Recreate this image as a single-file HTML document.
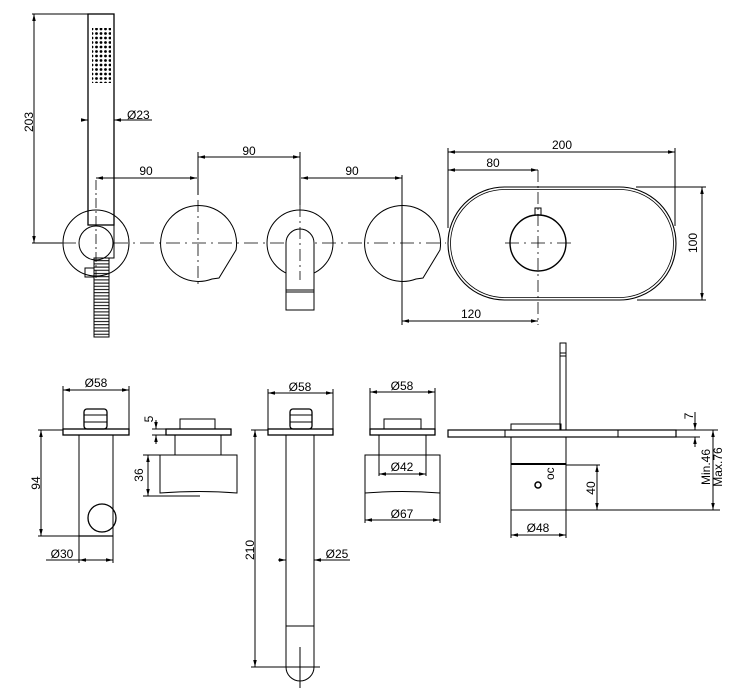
<!DOCTYPE html>
<html><head><meta charset="utf-8"><style>html,body{margin:0;padding:0;background:#fff}svg{display:block}text{font-family:"Liberation Sans",sans-serif;font-size:12px;fill:#000}</style></head>
<body>
<svg width="752" height="700" viewBox="0 0 752 700" xmlns="http://www.w3.org/2000/svg">
<defs>
<marker id="a" viewBox="0 0 10 10" refX="10" refY="5" markerWidth="7" markerHeight="7" orient="auto-start-reverse"><path d="M0,2.5 L10,5 L0,7.5 Z" fill="#000" stroke="none"/></marker>
<pattern id="dots" width="4.5" height="4.5" patternUnits="userSpaceOnUse"><circle cx="2" cy="2" r="1.4" fill="#000"/></pattern>
<pattern id="hose" width="16" height="3.2" patternUnits="userSpaceOnUse"><line x1="0" y1="1.5" x2="16" y2="1.5" stroke="#000" stroke-width="1"/></pattern>
</defs>
<g fill="none" stroke="#000" stroke-width="1">
<line x1="62" y1="243" x2="446" y2="243" stroke-dasharray="14,5,2,5" stroke-width="0.8"/>
<line x1="505" y1="243" x2="572" y2="243" stroke-dasharray="14,5,2,5" stroke-width="0.8"/>
<rect x="88" y="14" width="26" height="211" stroke-width="1.3"/>
<rect x="92" y="28" width="19" height="55" fill="url(#dots)" stroke="none"/>
<circle cx="96" cy="243" r="33"/>
<circle cx="96" cy="243" r="17" fill="#fff"/>
<path d="M112,225 L114,225 L114,258 L109,258"/>
<rect x="94" y="258" width="15" height="79" fill="url(#hose)"/>
<rect x="85" y="268" width="9" height="9"/>
<line x1="96" y1="180" x2="96" y2="278" stroke-dasharray="10,3,2,3" stroke-width="0.8"/>
<line x1="34" y1="14" x2="34" y2="243" marker-start="url(#a)" marker-end="url(#a)"/>
<line x1="32" y1="14" x2="88" y2="14"/>
<line x1="32" y1="243" x2="62" y2="243"/>
<line x1="81" y1="120" x2="88" y2="120" marker-end="url(#a)"/>
<line x1="114" y1="120" x2="152" y2="120" marker-start="url(#a)"/>
<line x1="96" y1="178" x2="197" y2="178" marker-start="url(#a)" marker-end="url(#a)"/>
<line x1="198" y1="157" x2="300" y2="157" marker-start="url(#a)" marker-end="url(#a)"/>
<line x1="301" y1="178" x2="402" y2="178" marker-start="url(#a)" marker-end="url(#a)"/>
<line x1="198" y1="152" x2="198" y2="195"/>
<line x1="300" y1="152" x2="300" y2="205"/>
<line x1="402" y1="175" x2="402" y2="325"/>
<path d="M212,279 A38,38 0 1 1 236,250 L219,278 Z"/>
<line x1="198" y1="200" x2="198" y2="288" stroke-dasharray="12,4,2,4" stroke-width="0.8"/>
<circle cx="300" cy="243" r="33"/>
<path d="M286,310 L286,243 A14,14 0 0 1 314,243 L314,310 Z" fill="#fff"/>
<line x1="286" y1="290" x2="314" y2="290"/><line x1="286" y1="292" x2="314" y2="292"/>
<line x1="300" y1="205" x2="300" y2="280" stroke-dasharray="12,4,2,4" stroke-width="0.8"/>
<path d="M416,279 A38,38 0 1 1 440,250 L423,278 Z"/>
<line x1="402" y1="200" x2="402" y2="290" stroke-dasharray="12,4,2,4" stroke-width="0.8"/>
<rect x="448" y="187" width="228" height="113" rx="56.5" stroke-width="1.1"/>
<rect x="450.5" y="189.5" width="223" height="108" rx="54" stroke-width="0.8"/>
<circle cx="538" cy="243" r="28" stroke-width="1.4"/>
<rect x="535" y="208" width="6" height="7"/>
<line x1="538" y1="170" x2="538" y2="325" stroke-dasharray="12,4,2,4" stroke-width="0.8"/>
<line x1="448" y1="152" x2="675" y2="152" marker-start="url(#a)" marker-end="url(#a)"/>
<line x1="448" y1="170" x2="538" y2="170" marker-start="url(#a)" marker-end="url(#a)"/>
<line x1="448" y1="148" x2="448" y2="228"/>
<line x1="675" y1="148" x2="675" y2="226"/>
<line x1="702" y1="187" x2="702" y2="300" marker-start="url(#a)" marker-end="url(#a)"/>
<line x1="636" y1="187" x2="706" y2="187"/>
<line x1="637" y1="300" x2="706" y2="300"/>
<line x1="402" y1="321" x2="538" y2="321" marker-start="url(#a)" marker-end="url(#a)"/>

<rect x="63" y="429" width="66" height="6" stroke-width="1.3"/>
<rect x="84" y="409" width="23" height="20" rx="3" stroke-width="1.3"/>
<line x1="84" y1="415" x2="107" y2="415"/><line x1="84" y1="422" x2="107" y2="422"/>
<line x1="79" y1="435" x2="79" y2="536"/><line x1="113" y1="435" x2="113" y2="536"/>
<line x1="79" y1="536" x2="113" y2="536" stroke-width="1.3"/>
<circle cx="102" cy="518" r="14" stroke-width="1.3"/>
<line x1="63" y1="390" x2="129" y2="390" marker-start="url(#a)" marker-end="url(#a)"/>
<line x1="63" y1="386" x2="63" y2="429"/><line x1="129" y1="386" x2="129" y2="429"/>
<line x1="41" y1="430" x2="41" y2="536" marker-start="url(#a)" marker-end="url(#a)"/>
<line x1="38" y1="430" x2="63" y2="430"/><line x1="38" y1="536" x2="79" y2="536"/>
<line x1="46" y1="560" x2="79" y2="560"/>
<line x1="79" y1="560" x2="113" y2="560" marker-start="url(#a)" marker-end="url(#a)"/>
<line x1="79" y1="536" x2="79" y2="563"/><line x1="113" y1="536" x2="113" y2="563"/>
<rect x="166" y="429" width="65" height="6" stroke-width="1.3"/>
<rect x="180" y="419" width="35" height="10"/>
<rect x="175" y="435" width="46" height="20"/>
<path d="M160,455 L237,455 L237,493 Q200,490 160,493 Z"/>
<line x1="156" y1="420" x2="156" y2="429" marker-end="url(#a)"/>
<line x1="156" y1="444" x2="156" y2="435" marker-end="url(#a)"/>
<line x1="152" y1="429" x2="166" y2="429"/><line x1="152" y1="435" x2="166" y2="435"/>
<line x1="148" y1="455" x2="148" y2="496" marker-start="url(#a)" marker-end="url(#a)"/>
<line x1="143" y1="455" x2="160" y2="455"/><line x1="143" y1="496" x2="200" y2="496"/>
<rect x="268" y="429" width="65" height="6" stroke-width="1.3"/>
<rect x="290" y="409" width="22" height="20" rx="3" stroke-width="1.3"/>
<line x1="290" y1="415" x2="312" y2="415"/><line x1="290" y1="422" x2="312" y2="422"/>
<path d="M286,435 L286,667 A14,14 0 0 0 314,667 L314,435"/>
<line x1="286" y1="626" x2="314" y2="626"/>
<line x1="300" y1="647" x2="300" y2="688"/>
<line x1="268" y1="393" x2="333" y2="393" marker-start="url(#a)" marker-end="url(#a)"/>
<line x1="268" y1="389" x2="268" y2="429"/><line x1="333" y1="389" x2="333" y2="429"/>
<line x1="255" y1="430" x2="255" y2="667" marker-start="url(#a)" marker-end="url(#a)"/>
<line x1="251" y1="430" x2="268" y2="430"/><line x1="251" y1="667" x2="320" y2="667"/>
<line x1="278" y1="560" x2="286" y2="560" marker-end="url(#a)"/>
<line x1="314" y1="560" x2="350" y2="560" marker-start="url(#a)"/>
<rect x="370" y="429" width="65" height="6" stroke-width="1.3"/>
<rect x="384" y="419" width="37" height="10"/>
<path d="M365,455 L440,455 L440,493 Q402,490 365,493 Z"/>
<line x1="379" y1="435" x2="379" y2="476"/><line x1="426" y1="435" x2="426" y2="476"/>
<line x1="379" y1="474" x2="426" y2="474" marker-start="url(#a)" marker-end="url(#a)"/>
<line x1="370" y1="392" x2="435" y2="392" marker-start="url(#a)" marker-end="url(#a)"/>
<line x1="370" y1="388" x2="370" y2="429"/><line x1="435" y1="388" x2="435" y2="429"/>
<line x1="365" y1="520" x2="440" y2="520" marker-start="url(#a)" marker-end="url(#a)"/>
<line x1="365" y1="493" x2="365" y2="523"/><line x1="440" y1="493" x2="440" y2="523"/>
<rect x="448" y="430" width="228" height="7" stroke-width="1.2"/>
<line x1="505" y1="430" x2="505" y2="437"/><line x1="618" y1="430" x2="618" y2="437"/>
<rect x="511" y="424" width="50" height="6"/>
<rect x="560" y="343" width="6" height="87"/>
<line x1="560" y1="353" x2="566" y2="353"/><line x1="560" y1="356" x2="566" y2="356"/>
<rect x="511" y="437" width="55" height="73"/>
<line x1="511" y1="464" x2="566" y2="464" stroke-width="2"/>
<circle cx="538" cy="485" r="3" stroke-width="1.5"/>
<line x1="566" y1="465" x2="600" y2="465"/><line x1="566" y1="510" x2="720" y2="510"/>
<line x1="597" y1="465" x2="597" y2="510" marker-start="url(#a)" marker-end="url(#a)"/>
<line x1="713" y1="430" x2="713" y2="510" marker-start="url(#a)" marker-end="url(#a)"/>
<line x1="676" y1="430" x2="718" y2="430"/><line x1="676" y1="437" x2="700" y2="437"/>
<line x1="695" y1="412" x2="695" y2="430" marker-end="url(#a)"/>
<line x1="695" y1="447" x2="695" y2="437" marker-end="url(#a)"/>
<line x1="511" y1="535" x2="566" y2="535" marker-start="url(#a)" marker-end="url(#a)"/>
<line x1="511" y1="510" x2="511" y2="538"/><line x1="566" y1="510" x2="566" y2="538"/>
</g>
<text x="33" y="122" transform="rotate(-90 33 122)" text-anchor="middle">203</text>
<text x="127" y="119">Ø23</text>
<text x="146" y="175" text-anchor="middle">90</text>
<text x="249" y="155" text-anchor="middle">90</text>
<text x="352" y="175" text-anchor="middle">90</text>
<text x="562" y="149" text-anchor="middle">200</text>
<text x="493" y="167" text-anchor="middle">80</text>
<text x="697" y="243" transform="rotate(-90 697 243)" text-anchor="middle">100</text>
<text x="471" y="318" text-anchor="middle">120</text>
<text x="96" y="387" text-anchor="middle">Ø58</text>
<text x="40" y="483" transform="rotate(-90 40 483)" text-anchor="middle">94</text>
<text x="62" y="558" text-anchor="middle">Ø30</text>
<text x="153" y="419" transform="rotate(-90 153 419)" text-anchor="middle" font-size="10">5</text>
<text x="143" y="475" transform="rotate(-90 143 475)" text-anchor="middle">36</text>
<text x="300" y="391" text-anchor="middle">Ø58</text>
<text x="254" y="550" transform="rotate(-90 254 550)" text-anchor="middle">210</text>
<text x="337" y="558" text-anchor="middle">Ø25</text>
<text x="402" y="390" text-anchor="middle">Ø58</text>
<text x="402" y="471" text-anchor="middle">Ø42</text>
<text x="402" y="518" text-anchor="middle">Ø67</text>
<text x="544" y="490" transform="rotate(-90 544 480)" font-size="8">oc</text>
<text x="595" y="488" transform="rotate(-90 595 488)" text-anchor="middle">40</text>
<text x="693" y="416" transform="rotate(-90 693 416)" text-anchor="middle">7</text>
<text x="710" y="467" transform="rotate(-90 710 467)" text-anchor="middle">Min.46</text>
<text x="722" y="467" transform="rotate(-90 722 467)" text-anchor="middle">Max.76</text>
<text x="538" y="532" text-anchor="middle">Ø48</text>
</svg>
</body></html>
